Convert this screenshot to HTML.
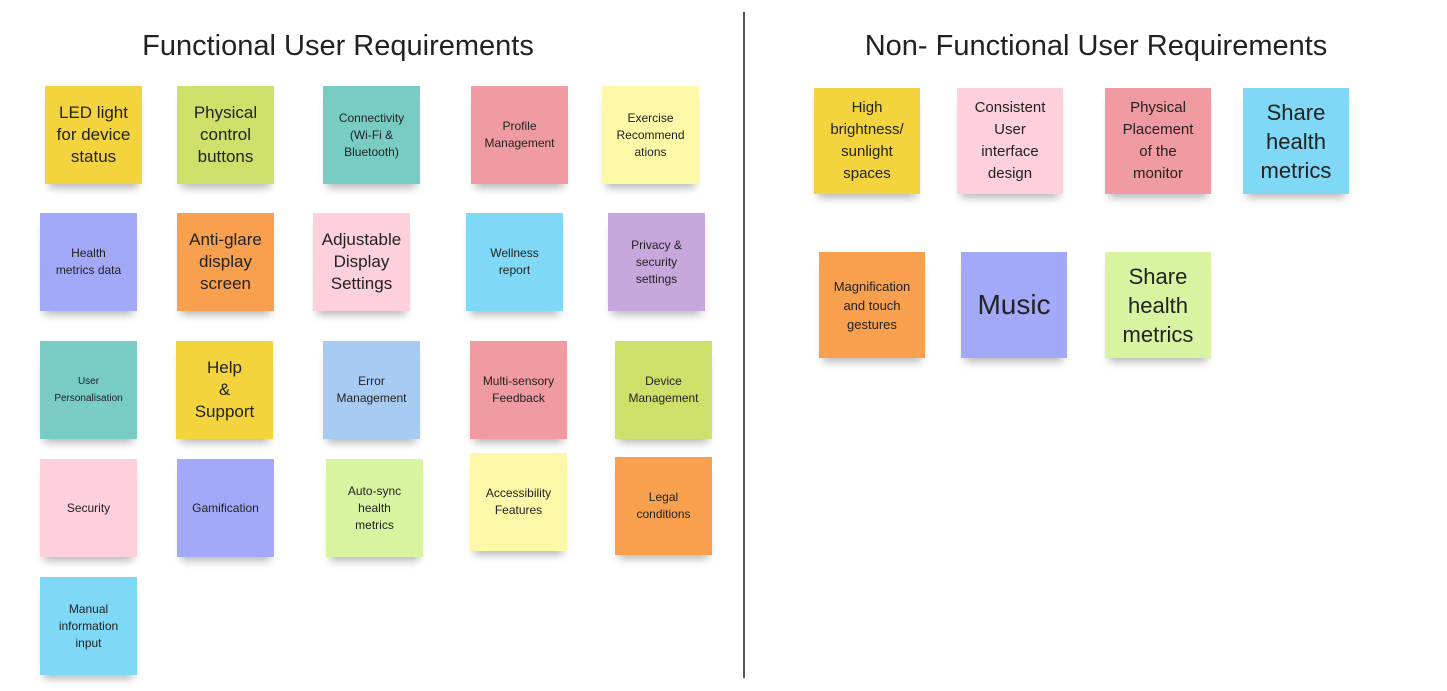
<!DOCTYPE html>
<html><head><style>
body{margin:0;width:1447px;height:691px;background:#fff;position:relative;overflow:hidden;font-family:"Liberation Sans",sans-serif;}
.t{position:absolute;top:30px;font-size:29px;color:#222;text-align:center;white-space:nowrap;}
.s{position:absolute;width:97px;height:98px;display:flex;align-items:center;justify-content:center;text-align:center;color:#222;font-size:12px;line-height:17px;box-shadow:0 8px 8px -4px rgba(0,0,0,0.28);}
.b{font-size:17px;line-height:22px;}
.w{width:106px;height:106px;font-size:15px;line-height:22px;}
</style></head><body>
<div class="t" style="left:130px;width:416px">Functional User Requirements</div>
<div class="t" style="left:850px;width:492px">Non- Functional User Requirements</div>
<div style="position:absolute;left:743px;top:12px;width:2px;height:666px;background:#555"></div>

<div class="s b" style="left:45px;top:86px;background:#f3d43c">LED light<br>for device<br>status</div>
<div class="s b" style="left:177px;top:86px;background:#cfe06a">Physical<br>control<br>buttons</div>
<div class="s" style="left:323px;top:86px;background:#78ccc4">Connectivity<br>(Wi-Fi &amp;<br>Bluetooth)</div>
<div class="s" style="left:471px;top:86px;background:#f09aa2">Profile<br>Management</div>
<div class="s" style="left:602px;top:86px;background:#fdf7a8">Exercise<br>Recommend<br>ations</div>

<div class="s" style="left:40px;top:213px;background:#a2a9f8">Health<br>metrics data</div>
<div class="s b" style="left:177px;top:213px;background:#f8a04e">Anti-glare<br>display<br>screen</div>
<div class="s b" style="left:313px;top:213px;background:#fdd0dc">Adjustable<br>Display<br>Settings</div>
<div class="s" style="left:466px;top:213px;background:#7fd8f6">Wellness<br>report</div>
<div class="s" style="left:608px;top:213px;background:#c8a8dc">Privacy &amp;<br>security<br>settings</div>

<div class="s" style="left:40px;top:341px;background:#78ccc4;font-size:10px">User<br>Personalisation</div>
<div class="s b" style="left:176px;top:341px;background:#f3d43c">Help<br>&amp;<br>Support</div>
<div class="s" style="left:323px;top:341px;background:#a8cbf4">Error<br>Management</div>
<div class="s" style="left:470px;top:341px;background:#f09aa2">Multi-sensory<br>Feedback</div>
<div class="s" style="left:615px;top:341px;background:#cfe06a">Device<br>Management</div>

<div class="s" style="left:40px;top:459px;background:#fdd0dc">Security</div>
<div class="s" style="left:177px;top:459px;background:#a2a9f8">Gamification</div>
<div class="s" style="left:326px;top:459px;background:#d8f4a0">Auto-sync<br>health<br>metrics</div>
<div class="s" style="left:470px;top:453px;background:#fdf7a8">Accessibility<br>Features</div>
<div class="s" style="left:615px;top:457px;background:#f8a04e">Legal<br>conditions</div>

<div class="s" style="left:40px;top:577px;background:#7fd8f6">Manual<br>information<br>input</div>

<div class="s w" style="left:814px;top:88px;background:#f3d43c">High<br>brightness/<br>sunlight<br>spaces</div>
<div class="s w" style="left:957px;top:88px;background:#fdd0dc">Consistent<br>User<br>interface<br>design</div>
<div class="s w" style="left:1105px;top:88px;background:#f09aa2">Physical<br>Placement<br>of the<br>monitor</div>
<div class="s w" style="left:1243px;top:88px;background:#7fd8f6;font-size:22px;line-height:29px">Share<br>health<br>metrics</div>

<div class="s w" style="left:819px;top:252px;background:#f8a04e;font-size:13px;line-height:19px">Magnification<br>and touch<br>gestures</div>
<div class="s w" style="left:961px;top:252px;background:#a2a9f8;font-size:28px">Music</div>
<div class="s w" style="left:1105px;top:252px;background:#d8f4a0;font-size:22px;line-height:29px">Share<br>health<br>metrics</div>
</body></html>
